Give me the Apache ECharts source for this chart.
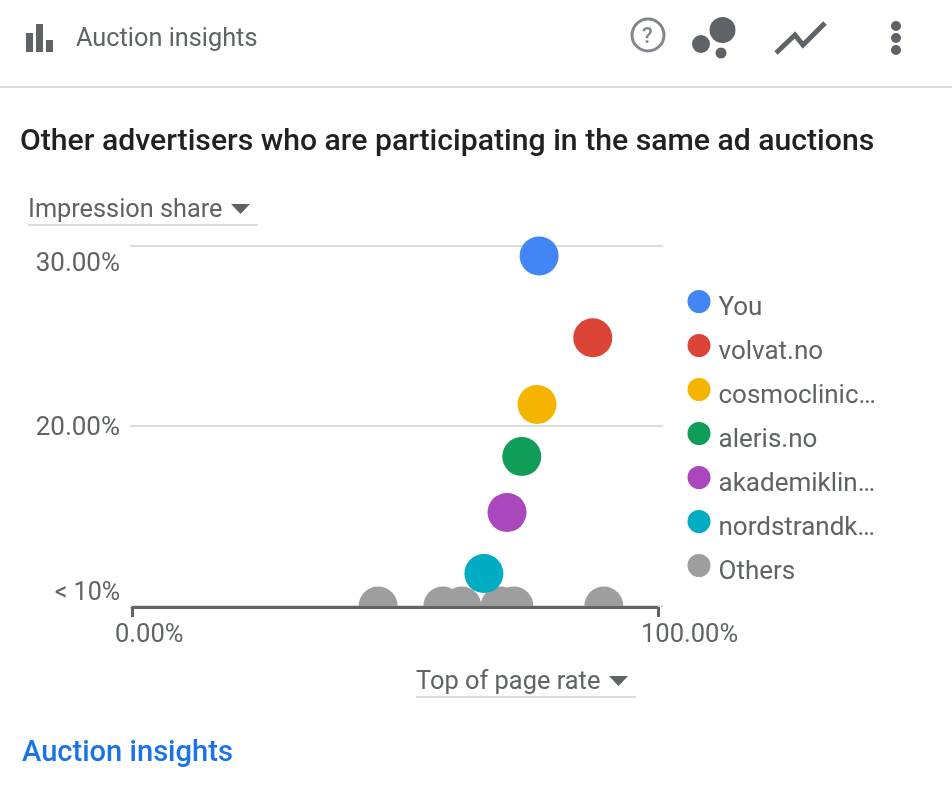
<!DOCTYPE html>
<html>
<head>
<meta charset="utf-8">
<title>Auction insights</title>
<script src="https://cdn.jsdelivr.net/npm/echarts@6/dist/echarts.min.js"></script>
<style>
    html, body { margin: 0; padding: 0; background: #fff; }
    #chart { width: 952px; height: 794px; }
</style>
</head>
<body>
<div id="chart"></div>
<script>
// values
const advertisers = ["You", "volvat.no", "cosmoclinic…", "aleris.no", "akademiklin…", "nordstrandk…"];
const advertiserColors = ["#4285f4", "#db4437", "#f4b400", "#0f9d58", "#ab47bc", "#00acc1"];
const topOfPageRate = [77.4, 87.6, 77.0, 74.1, 71.3, 66.9];
const impressionShare = [29.45, 24.9, 21.2, 18.3, 15.2, 11.8];

const othersName = "Others";
const othersColor = "#9e9e9e";
const othersRate = [46.8, 59.1, 62.7, 70.0, 72.6, 89.7];
const othersShare = [10, 10, 10, 10, 10, 10];

const yTickLabels = { 10: "< 10%", 20: "20.00%", 30: "30.00%" };
const xTickLabels = { 0: "0.00%", 100: "100.00%" };

const FONT = "Roboto";
const GREY = "#5f6368";
const LINE = "#dadce0";
const BUBBLE = 39;

function text(x, y, str, size, color, weight) {
    return {
        type: "text", x: x, y: y, silent: true,
        style: {
            text: str, fill: color || GREY, font: (weight || 400) + " " + size + "px " + FONT,
            textVerticalAlign: "middle"
        }
    };
}
function rect(x, y, w, h, color) {
    return { type: "rect", silent: true, shape: { x: x, y: y, width: w, height: h }, style: { fill: color } };
}
function dot(x, y, r, color) {
    return { type: "circle", silent: true, shape: { cx: x, cy: y, r: r }, style: { fill: color } };
}
function arrow(x, y) {
    return {
        type: "polygon", silent: true,
        shape: { points: [[x, y], [x + 19, y], [x + 9.5, y + 10]] },
        style: { fill: GREY }
    };
}

let series = advertisers.map((name, i) => ({
    name: name,
    type: "scatter",
    z: 3,
    symbolSize: BUBBLE,
    clip: false,
    itemStyle: { color: advertiserColors[i], opacity: 1 },
    data: [[topOfPageRate[i], impressionShare[i]]]
}));
// the others sit on the axis and only their top half shows
series.push({
    name: othersName,
    type: "scatter",
    z: 2,
    clip: false,
    symbol: "path://M0,20 A20,20 0 0 1 40,20 Z",
    symbolSize: [BUBBLE, BUBBLE / 2],
    symbolOffset: [0, -BUBBLE / 4],
    itemStyle: { color: othersColor, opacity: 1 },
    data: othersRate.map((r, i) => [r, othersShare[i]])
});

const yLabelBase = { color: GREY, fontFamily: FONT, fontSize: 26 };

let option = {
    backgroundColor: "#fff",
    animation: false,
    textStyle: { fontFamily: FONT },
    title: {
        text: "Other advertisers who are participating in the same ad auctions",
        left: 15, top: 122,
        textStyle: { fontFamily: FONT, fontSize: 30.2, fontWeight: 500, color: "#202124" }
    },
    grid: { left: 132, top: 246, width: 526, height: 360 },
    legend: {
        left: 682.5, top: 285,
        orient: "vertical",
        icon: "circle",
        itemWidth: 23, itemHeight: 23, itemGap: 13,
        selectedMode: false,
        formatter: "{t|{name}}",
        textStyle: {
            fontFamily: FONT, fontSize: 26, color: GREY, padding: [0, 0, 0, 3],
            rich: { t: { fontFamily: FONT, fontSize: 26, color: GREY, padding: [13, 0, 0, 0] } }
        },
        data: advertisers.concat([othersName])
    },
    xAxis: {
        type: "value", min: 0, max: 100, interval: 100,
        offset: 1,
        splitLine: { show: false },
        axisLine: { lineStyle: { color: GREY, width: 3 } },
        axisTick: { length: 10, lineStyle: { color: GREY, width: 3 } },
        axisLabel: {
            color: GREY, fontFamily: FONT, fontSize: 25.5, margin: 16,
            align: "left", padding: [0, 0, 0, -17],
            formatter: v => xTickLabels[v]
        }
    },
    yAxis: [{
        type: "value", min: 10, max: 30, interval: 10,
        splitLine: { lineStyle: { color: LINE, width: 2 } },
        axisLine: { show: false },
        axisTick: { show: true, length: 2, lineStyle: { color: LINE, width: 2 } },
        axisLabel: {
            color: GREY, fontFamily: FONT, fontSize: 26, margin: 12,
            verticalAlignMaxLabel: "top", verticalAlignMinLabel: "bottom",
            formatter: v => v == 30 ? "{top|" + yTickLabels[v] + "}" : v == 20 ? "{mid|" + yTickLabels[v] + "}" : "{low|" + yTickLabels[v] + "}",
            rich: {
                top: Object.assign({ padding: [5, 0, 0, 0] }, yLabelBase),
                mid: Object.assign({ padding: [4, 0, 0, 0] }, yLabelBase),
                low: { color: GREY, fontFamily: FONT, fontSize: 25 }
            }
        }
    }, {
        // right side only carries the little overhang of the grid lines
        type: "value", min: 10, max: 30, interval: 10, position: "right",
        splitLine: { show: false },
        axisLine: { show: false },
        axisTick: { show: true, length: 5, lineStyle: { color: LINE, width: 2 } },
        axisLabel: { show: false }
    }],
    graphic: [
        // header
        rect(26, 33, 7, 19, GREY), rect(36, 24, 7, 28, GREY), rect(46, 40, 7, 12, GREY),
        text(76, 40, "Auction insights", 25.3),
        {
            type: "circle", silent: true, shape: { cx: 648, cy: 35, r: 16 },
            style: { fill: "none", stroke: "#80868b", lineWidth: 3 }
        },
        text(642, 37, "?", 22, "#80868b", 500),
        dot(722.5, 30, 13, GREY), dot(701, 44, 9, GREY), dot(721, 53, 5.5, GREY),
        {
            type: "polyline", silent: true,
            shape: { points: [[776, 53], [795, 35], [803, 45], [825, 23]] },
            style: { fill: "none", stroke: GREY, lineWidth: 5 }
        },
        dot(896, 26, 5, GREY), dot(896, 38, 5, GREY), dot(896, 50, 5, GREY),
        rect(0, 86, 952, 2, LINE),
        // dropdowns
        text(28, 210.5, "Impression share", 25.3),
        arrow(231, 204),
        rect(28, 224, 230, 2, LINE),
        text(416, 683, "Top of page rate", 25.4),
        arrow(609, 676),
        rect(416, 696, 220, 2, LINE),
        // link
        text(22, 754, "Auction insights", 29.1, "#1a73e8", 500)
    ],
    series: series
};

let chart = echarts.init(document.getElementById("chart"));
chart.setOption(option);
</script>
</body>
</html>
